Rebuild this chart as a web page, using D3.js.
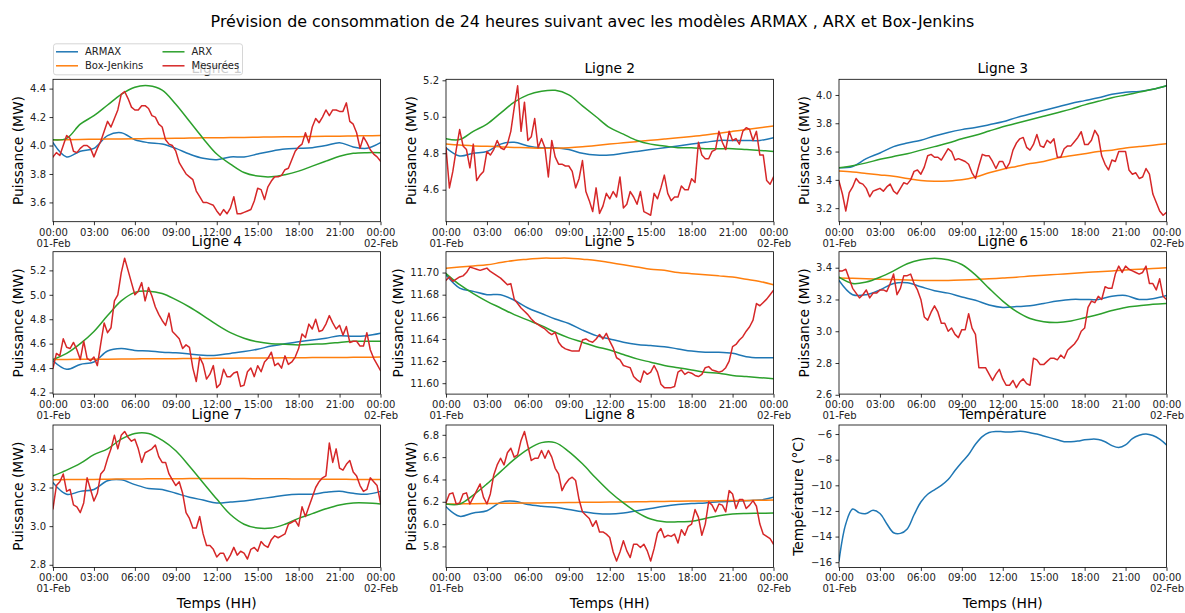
<!DOCTYPE html>
<html>
<head>
<meta charset="utf-8">
<script src="https://cdn.jsdelivr.net/npm/d3@7"></script>
<style>
  body { margin: 0; background: #fff; }
  text { font-family: "DejaVu Sans", sans-serif; }
</style>
</head>
<body>
<svg id="chart" width="1185" height="613"></svg>
<script>
// ---- data (hourly model outputs, 15-min measurements, half-hourly temperature) ----
const seriesNames = ["ARMAX", "Box-Jenkins", "ARX", "Mesurées"];
const panelTitles = ["Ligne 1", "Ligne 2", "Ligne 3", "Ligne 4", "Ligne 5", "Ligne 6", "Ligne 7", "Ligne 8", "Température"];

const armax1 = [4.02,3.92,3.96,3.98,4.07,4.09,4.04,4.02,4.01,3.98,3.94,3.91,3.90,3.92,3.92,3.94,3.96,3.975,3.98,3.985,4.00,4.02,3.99,3.98,4.02];
const bj1 = [4.040,4.041,4.042,4.044,4.045,4.046,4.047,4.049,4.050,4.051,4.052,4.054,4.055,4.056,4.057,4.059,4.060,4.061,4.062,4.064,4.065,4.066,4.067,4.069,4.070];
const arx1 = [4.04,4.05,4.15,4.21,4.285,4.36,4.41,4.42,4.39,4.29,4.17,4.05,3.94,3.87,3.81,3.785,3.78,3.795,3.82,3.855,3.89,3.925,3.945,3.95,3.95];
const mes1 = [3.92,3.95,3.93,4.00,4.07,4.05,3.96,3.95,3.98,4.00,
  4.00,3.98,3.92,3.98,4.03,4.10,4.17,4.13,4.19,4.25,
  4.36,4.38,4.33,4.27,4.25,4.25,4.28,4.28,4.26,4.21,
  4.20,4.15,4.13,4.04,4.01,4.00,3.96,3.88,3.84,3.80,
  3.78,3.76,3.68,3.64,3.60,3.60,3.59,3.58,3.54,3.51,
  3.55,3.52,3.56,3.64,3.52,3.52,3.53,3.54,3.55,3.61,
  3.70,3.69,3.62,3.71,3.75,3.78,3.78,3.79,3.83,3.84,
  3.90,3.96,3.99,4.01,4.09,4.02,4.13,4.19,4.16,4.20,
  4.25,4.21,4.25,4.25,4.24,4.24,4.30,4.17,4.15,4.09,
  3.98,4.06,4.02,3.97,3.94,3.92,3.89];

const armax2 = [4.83,4.785,4.80,4.81,4.85,4.86,4.84,4.83,4.83,4.82,4.80,4.79,4.79,4.80,4.81,4.82,4.83,4.84,4.85,4.86,4.87,4.87,4.87,4.87,4.885];
const bj2 = [4.85,4.845,4.84,4.838,4.835,4.832,4.83,4.828,4.828,4.83,4.835,4.842,4.85,4.857,4.864,4.871,4.878,4.885,4.892,4.90,4.91,4.92,4.93,4.94,4.95];
const arx2 = [4.88,4.875,4.92,4.96,5.02,5.08,5.12,5.14,5.145,5.12,5.06,5.00,4.94,4.905,4.87,4.85,4.84,4.83,4.83,4.825,4.825,4.825,4.82,4.815,4.81];
const mes2 = [4.83,4.61,4.70,4.82,4.93,4.84,4.82,4.72,4.85,4.65,
  4.68,4.70,4.81,4.79,4.82,4.87,4.83,4.82,4.85,4.92,
  5.05,5.17,4.92,5.08,4.87,4.89,4.99,4.83,4.88,4.83,
  4.67,4.87,4.78,4.74,4.74,4.73,4.73,4.70,4.61,4.66,
  4.76,4.59,4.54,4.48,4.61,4.47,4.51,4.58,4.55,4.59,
  4.56,4.67,4.50,4.52,4.59,4.56,4.52,4.59,4.48,4.47,
  4.46,4.58,4.55,4.61,4.68,4.58,4.54,4.56,4.56,4.62,
  4.60,4.60,4.66,4.64,4.86,4.79,4.77,4.77,4.81,4.82,
  4.92,4.86,4.82,4.92,4.87,4.88,4.85,4.92,4.94,4.93,
  4.87,4.92,4.79,4.79,4.65,4.63,4.67];

const armax3 = [3.485,3.495,3.55,3.59,3.635,3.66,3.68,3.71,3.735,3.755,3.77,3.79,3.81,3.84,3.865,3.89,3.915,3.94,3.96,3.98,4.005,4.02,4.025,4.04,4.065];
const bj3 = [3.462,3.455,3.445,3.435,3.425,3.41,3.395,3.39,3.392,3.40,3.42,3.45,3.475,3.495,3.515,3.53,3.555,3.57,3.585,3.60,3.61,3.625,3.635,3.645,3.655];
const arx3 = [3.485,3.50,3.52,3.545,3.565,3.585,3.61,3.635,3.66,3.69,3.715,3.745,3.775,3.80,3.825,3.85,3.875,3.90,3.93,3.955,3.98,4.00,4.02,4.04,4.065];
const mes3 = [3.39,3.30,3.18,3.31,3.35,3.41,3.38,3.37,3.34,3.28,
  3.32,3.33,3.34,3.32,3.35,3.37,3.32,3.30,3.34,3.38,
  3.37,3.40,3.46,3.47,3.44,3.49,3.57,3.58,3.56,3.56,
  3.54,3.58,3.62,3.60,3.54,3.55,3.54,3.53,3.51,3.45,
  3.41,3.50,3.58,3.57,3.57,3.53,3.48,3.53,3.53,3.48,
  3.52,3.61,3.66,3.69,3.70,3.63,3.61,3.65,3.72,3.64,
  3.63,3.68,3.66,3.69,3.56,3.56,3.62,3.64,3.64,3.67,
  3.70,3.74,3.65,3.65,3.68,3.75,3.71,3.57,3.51,3.47,
  3.54,3.53,3.60,3.60,3.60,3.47,3.44,3.45,3.41,3.42,
  3.48,3.44,3.30,3.24,3.18,3.15,3.17];

const armax4 = [4.46,4.39,4.43,4.45,4.54,4.56,4.545,4.54,4.53,4.525,4.515,4.505,4.505,4.52,4.535,4.555,4.58,4.60,4.615,4.63,4.645,4.665,4.66,4.665,4.685];
const bj4 = [4.470,4.471,4.472,4.472,4.473,4.474,4.475,4.476,4.477,4.477,4.478,4.479,4.480,4.481,4.482,4.482,4.483,4.484,4.485,4.486,4.487,4.487,4.488,4.489,4.490];
const arx4 = [4.47,4.52,4.60,4.70,4.83,4.95,5.02,5.03,5.01,4.96,4.90,4.83,4.755,4.69,4.645,4.615,4.60,4.595,4.59,4.595,4.60,4.61,4.62,4.62,4.62];
const mes4 = [4.40,4.52,4.50,4.64,4.57,4.56,4.61,4.55,4.47,4.62,
  4.48,4.46,4.49,4.42,4.60,4.77,4.69,4.73,4.95,5.00,
  5.18,5.30,5.20,5.10,5.00,5.03,5.10,4.95,5.06,4.99,
  4.90,4.84,4.79,4.75,4.85,4.70,4.67,4.64,4.56,4.59,
  4.57,4.40,4.29,4.49,4.43,4.31,4.35,4.42,4.24,4.27,
  4.39,4.33,4.33,4.36,4.37,4.25,4.26,4.37,4.40,4.33,
  4.42,4.37,4.45,4.48,4.53,4.42,4.44,4.40,4.50,4.43,
  4.45,4.49,4.56,4.68,4.65,4.76,4.72,4.80,4.70,4.71,
  4.76,4.83,4.77,4.72,4.75,4.67,4.74,4.61,4.62,4.62,
  4.58,4.58,4.69,4.55,4.48,4.43,4.38];

const armax5 = [11.698,11.686,11.683,11.680,11.680,11.675,11.668,11.663,11.658,11.654,11.648,11.643,11.640,11.637,11.635,11.634,11.633,11.631,11.629,11.628,11.628,11.627,11.624,11.623,11.623];
const bj5 = [11.704,11.705,11.706,11.707,11.709,11.711,11.712,11.713,11.713,11.713,11.712,11.711,11.709,11.707,11.705,11.703,11.702,11.700,11.699,11.698,11.697,11.696,11.694,11.692,11.689];
const arx5 = [11.699,11.689,11.681,11.674,11.668,11.662,11.657,11.652,11.646,11.641,11.637,11.633,11.630,11.626,11.622,11.619,11.616,11.614,11.612,11.610,11.609,11.607,11.606,11.605,11.604];
const mes5 = [11.693,11.696,11.692,11.694,11.696,11.697,11.700,11.705,11.704,11.703,
  11.702,11.703,11.704,11.701,11.699,11.697,11.695,11.692,11.689,11.690,
  11.676,11.672,11.668,11.665,11.662,11.658,11.655,11.653,11.651,11.649,
  11.646,11.644,11.646,11.637,11.633,11.631,11.630,11.629,11.629,11.629,
  11.639,11.640,11.638,11.637,11.640,11.644,11.640,11.645,11.638,11.632,
  11.623,11.621,11.616,11.615,11.614,11.606,11.603,11.601,11.611,11.608,
  11.610,11.616,11.610,11.599,11.596,11.596,11.596,11.597,11.610,11.612,
  11.608,11.610,11.609,11.607,11.606,11.608,11.614,11.615,11.612,11.611,
  11.610,11.611,11.614,11.620,11.633,11.635,11.639,11.642,11.647,11.651,
  11.657,11.672,11.670,11.673,11.676,11.680,11.684];

const armax6 = [3.32,3.23,3.23,3.26,3.30,3.305,3.28,3.255,3.24,3.215,3.195,3.165,3.15,3.155,3.16,3.175,3.19,3.20,3.20,3.20,3.22,3.225,3.20,3.205,3.225];
const bj6 = [3.335,3.333,3.33,3.327,3.325,3.322,3.32,3.32,3.32,3.322,3.325,3.33,3.335,3.34,3.347,3.353,3.358,3.364,3.37,3.375,3.38,3.386,3.39,3.395,3.40];
const arx6 = [3.34,3.30,3.31,3.34,3.38,3.425,3.45,3.46,3.45,3.42,3.355,3.27,3.19,3.125,3.08,3.06,3.055,3.065,3.085,3.105,3.13,3.15,3.16,3.17,3.175];
const mes6 = [3.38,3.38,3.39,3.33,3.27,3.24,3.21,3.23,3.26,3.21,
  3.24,3.24,3.26,3.26,3.25,3.30,3.36,3.23,3.27,3.35,
  3.35,3.36,3.30,3.26,3.20,3.09,3.07,3.12,3.16,3.12,
  3.05,3.05,3.00,3.02,2.98,2.96,3.01,3.01,3.11,3.02,
  2.98,2.77,2.77,2.77,2.73,2.69,2.73,2.76,2.70,2.66,
  2.66,2.69,2.645,2.68,2.70,2.67,2.66,2.83,2.82,2.79,
  2.79,2.81,2.83,2.83,2.82,2.85,2.83,2.88,2.90,2.92,
  2.95,3.00,3.02,3.15,3.19,3.18,3.22,3.20,3.28,3.27,
  3.27,3.36,3.41,3.37,3.41,3.39,3.38,3.37,3.36,3.37,
  3.41,3.30,3.30,3.26,3.33,3.22,3.20];

const armax7 = [3.225,3.165,3.18,3.19,3.235,3.24,3.215,3.195,3.19,3.17,3.15,3.135,3.12,3.125,3.13,3.14,3.15,3.16,3.165,3.165,3.175,3.18,3.17,3.165,3.18];
const bj7 = [3.240,3.241,3.242,3.242,3.243,3.244,3.244,3.245,3.245,3.245,3.246,3.246,3.246,3.246,3.246,3.245,3.245,3.245,3.244,3.244,3.243,3.243,3.242,3.242,3.241];
const arx7 = [3.26,3.29,3.325,3.37,3.40,3.45,3.48,3.48,3.445,3.39,3.31,3.225,3.14,3.06,3.01,2.99,2.99,3.01,3.04,3.065,3.09,3.11,3.12,3.12,3.115];
const mes7 = [3.09,3.21,3.23,3.27,3.18,3.19,3.11,3.10,3.07,3.12,
  3.25,3.19,3.13,3.17,3.27,3.29,3.35,3.40,3.47,3.40,
  3.47,3.49,3.46,3.44,3.45,3.40,3.33,3.38,3.39,3.40,
  3.42,3.36,3.33,3.33,3.27,3.24,3.21,3.23,3.17,3.07,
  3.04,2.99,2.99,3.05,2.96,2.90,2.90,2.88,2.84,2.86,
  2.86,2.82,2.85,2.89,2.85,2.87,2.86,2.83,2.88,2.89,
  2.87,2.92,2.90,2.89,2.93,2.95,2.94,2.95,2.96,3.01,
  3.02,3.03,3.00,3.10,3.05,3.10,3.15,3.20,3.23,3.25,
  3.26,3.43,3.33,3.40,3.30,3.29,3.32,3.34,3.28,3.26,
  3.21,3.18,3.19,3.25,3.23,3.21,3.12];

const armax8 = [6.155,6.07,6.10,6.12,6.195,6.205,6.175,6.16,6.15,6.13,6.11,6.095,6.09,6.10,6.12,6.14,6.16,6.175,6.185,6.19,6.20,6.205,6.21,6.215,6.24];
const bj8 = [6.180,6.181,6.183,6.184,6.186,6.187,6.189,6.190,6.192,6.193,6.195,6.196,6.198,6.199,6.200,6.202,6.203,6.205,6.206,6.208,6.209,6.211,6.212,6.214,6.215];
const arx8 = [6.18,6.18,6.26,6.36,6.47,6.58,6.67,6.73,6.73,6.65,6.54,6.41,6.29,6.19,6.105,6.045,6.02,6.02,6.025,6.05,6.075,6.09,6.095,6.097,6.10];
const mes8 = [6.19,6.27,6.28,6.18,6.19,6.27,6.28,6.18,6.24,6.30,
  6.36,6.24,6.18,6.27,6.44,6.53,6.59,6.53,6.64,6.68,
  6.60,6.62,6.75,6.83,6.70,6.57,6.59,6.59,6.66,6.59,
  6.66,6.60,6.50,6.45,6.30,6.36,6.40,6.42,6.39,6.22,
  6.11,6.08,6.05,5.98,6.03,5.93,5.93,5.91,5.88,5.75,
  5.67,5.75,5.85,5.76,5.70,5.82,5.82,5.79,5.82,5.76,
  5.67,5.78,5.92,5.96,5.88,5.90,5.89,5.91,5.83,5.95,
  5.90,5.98,6.00,6.13,6.06,5.90,6.00,6.20,6.17,6.11,
  6.18,6.17,6.11,6.30,6.27,6.14,6.22,6.22,6.14,6.17,
  6.21,6.16,6.00,5.91,5.89,5.87,5.82];

const temperature = [-15.9,-13.0,-11.85,-12.15,-12.2,-11.95,-12.2,-13.0,-13.7,-13.75,-13.4,
  -12.3,-11.3,-10.7,-10.35,-10.0,-9.55,-8.85,-8.2,-7.6,-6.8,
  -6.2,-5.88,-5.8,-5.82,-5.85,-5.8,-5.8,-5.9,-6.0,-6.15,
  -6.3,-6.45,-6.6,-6.6,-6.55,-6.45,-6.4,-6.42,-6.6,-6.9,
  -7.05,-6.85,-6.35,-6.1,-6.0,-6.12,-6.4,-6.85];

// y tick values and label format per panel
const yTicks = [
  [3.6, 3.8, 4.0, 4.2, 4.4],
  [4.6, 4.8, 5.0, 5.2],
  [3.2, 3.4, 3.6, 3.8, 4.0],
  [4.2, 4.4, 4.6, 4.8, 5.0, 5.2],
  [11.60, 11.62, 11.64, 11.66, 11.68, 11.70],
  [2.6, 2.8, 3.0, 3.2, 3.4],
  [2.8, 3.0, 3.2, 3.4],
  [5.8, 6.0, 6.2, 6.4, 6.6, 6.8],
  [-16, -14, -12, -10, -8, -6]
];
const yFormats = [".1f", ".1f", ".1f", ".1f", ".2f", ".1f", ".1f", ".1f", "d"];

// ---- layout ----
const W = 1185, H = 613;
const colX = [53, 446, 839];
const rowY = [79.3, 251.7, 425];
const pw = 327.5, ph = 142.4;
const colors = ["#1f77b4", "#ff7f0e", "#2ca02c", "#d62728"];
const t0 = Date.UTC(2021, 1, 1);
const hourMs = 3600 * 1000;

const panels = [
  [armax1, bj1, arx1, mes1],
  [armax2, bj2, arx2, mes2],
  [armax3, bj3, arx3, mes3],
  [armax4, bj4, arx4, mes4],
  [armax5, bj5, arx5, mes5],
  [armax6, bj6, arx6, mes6],
  [armax7, bj7, arx7, mes7],
  [armax8, bj8, arx8, mes8],
  [temperature]
];

const svg = d3.select("#chart");
svg.append("rect").attr("width", W).attr("height", H).attr("fill", "#fff");

// suptitle
svg.append("text")
  .attr("x", W / 2).attr("y", 26.5)
  .attr("text-anchor", "middle")
  .attr("font-size", 15.9)
  .attr("fill", "#000")
  .text("Prévision de consommation de 24 heures suivant avec les modèles ARMAX , ARX et Box-Jenkins");

const x = d3.scaleUtc().domain([new Date(t0), new Date(t0 + 24 * hourMs)]).range([0, pw]);
const xTickVals = d3.range(0, 25, 3).map(h => new Date(t0 + h * hourMs));
const fmtHM = d3.utcFormat("%H:%M"), fmtDay = d3.utcFormat("%d-%b");

panels.forEach((series, p) => {
  const col = p % 3, row = Math.floor(p / 3);
  const g = svg.append("g").attr("transform", `translate(${colX[col]},${rowY[row]})`);

  // y domain like matplotlib autoscale: data extent + 5% margins
  const all = series.flat();
  const [lo, hi] = d3.extent(all);
  const pad = (hi - lo) * 0.05;
  const y = d3.scaleLinear().domain([lo - pad, hi + pad]).range([ph, 0]);

  const clipId = "clip" + p;
  g.append("clipPath").attr("id", clipId)
    .append("rect").attr("width", pw).attr("height", ph);

  const lines = g.append("g").attr("clip-path", `url(#${clipId})`);
  series.forEach((vals, s) => {
    const n = vals.length;
    const step = 24 / (n - 1);
    const smooth = !(series.length === 4 && s === 3);
    const line = d3.line()
      .x((d, i) => x(new Date(t0 + i * step * hourMs)))
      .y(d => y(d))
      .curve(smooth ? d3.curveCatmullRom.alpha(0.5) : d3.curveLinear);
    lines.append("path")
      .datum(vals)
      .attr("d", line)
      .attr("fill", "none")
      .attr("stroke", series.length === 1 ? colors[0] : colors[s])
      .attr("stroke-width", 1.5)
      .attr("stroke-linejoin", "round")
      .attr("stroke-linecap", "square");
  });

  // x axis
  const gx = g.append("g")
    .attr("transform", `translate(0,${ph})`)
    .call(d3.axisBottom(x).tickValues(xTickVals).tickSize(3.5).tickPadding(3.5).tickFormat(fmtHM))
    .attr("font-size", 10).attr("font-family", "DejaVu Sans");
  gx.select(".domain").remove();
  gx.selectAll(".tick line").attr("stroke", "#000").attr("stroke-width", 0.8);
  gx.selectAll(".tick text").attr("fill", "#222").each(function (d, i) {
    if (i === 0 || i === xTickVals.length - 1) {
      const t = d3.select(this);
      const s = t.text();
      t.text(null);
      t.append("tspan").attr("x", 0).text(s);
      t.append("tspan").attr("x", 0).attr("dy", "1.1em").text(fmtDay(d));
    }
  });

  // y axis
  const gy = g.append("g")
    .call(d3.axisLeft(y).tickValues(yTicks[p]).tickSize(3.5).tickPadding(3.5).tickFormat(d3.format(yFormats[p])))
    .attr("font-size", 10).attr("font-family", "DejaVu Sans");
  gy.select(".domain").remove();
  gy.selectAll(".tick line").attr("stroke", "#000").attr("stroke-width", 0.8);
  gy.selectAll(".tick text").attr("fill", "#222");

  // widest y tick label decides where the y label goes (as matplotlib does)
  let maxW = 0;
  gy.selectAll(".tick text").each(function () { maxW = Math.max(maxW, this.getComputedTextLength()); });

  // spines
  g.append("rect").attr("width", pw).attr("height", ph)
    .attr("fill", "none").attr("stroke", "#000").attr("stroke-width", 0.8);

  // title
  g.append("text")
    .attr("x", pw / 2).attr("y", -6)
    .attr("text-anchor", "middle")
    .attr("font-size", 13.8)
    .attr("fill", "#000")
    .text(panelTitles[p]);

  // y label
  g.append("text")
    .attr("transform", `translate(${-(7 + maxW + 7.5)},${ph / 2}) rotate(-90)`)
    .attr("text-anchor", "middle")
    .attr("font-size", 13.8)
    .attr("fill", "#000")
    .text(p === 8 ? "Température (°C)" : "Puissance (MW)");

  // x label on bottom row
  if (row === 2) {
    g.append("text")
      .attr("x", pw / 2).attr("y", H - rowY[row] - 5)
      .attr("text-anchor", "middle")
      .attr("font-size", 13.8)
      .attr("fill", "#000")
      .text("Temps (HH)");
  }
});

// legend (figure level, upper left, semi-transparent over "Ligne 1")
const lg = svg.append("g").attr("transform", "translate(53,43.3)");
lg.append("rect")
  .attr("x", 0.5).attr("y", 0.5).attr("width", 189).attr("height", 31)
  .attr("rx", 2.5)
  .attr("fill", "#fff").attr("fill-opacity", 0.8)
  .attr("stroke", "#ccc").attr("stroke-width", 0.8);
seriesNames.forEach((name, i) => {
  const cx = Math.floor(i / 2) * 106.5, cy = 8.5 + (i % 2) * 14;
  lg.append("line")
    .attr("x1", cx + 3).attr("x2", cx + 25)
    .attr("y1", cy).attr("y2", cy)
    .attr("stroke", colors[i]).attr("stroke-width", 1.5);
  lg.append("text")
    .attr("x", cx + 32).attr("y", cy + 3.6)
    .attr("font-size", 10)
    .attr("fill", "#222")
    .text(name);
});
</script>
</body>
</html>
